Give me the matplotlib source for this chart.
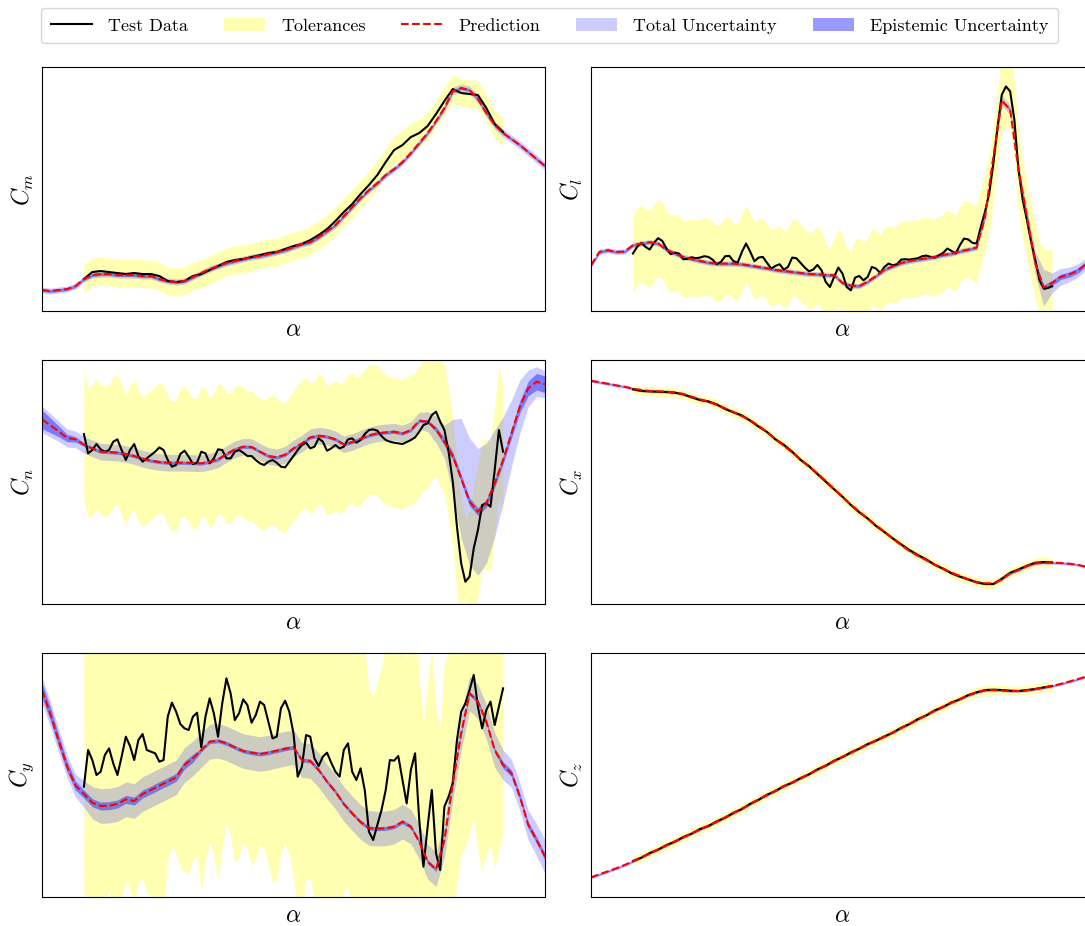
import numpy as np
import matplotlib
matplotlib.use('agg')
import matplotlib.pyplot as plt
from matplotlib.lines import Line2D
from matplotlib.patches import Patch

plt.rcParams['font.family'] = 'serif'
plt.rcParams['font.serif'] = ['cmr10']
plt.rcParams['mathtext.fontset'] = 'cm'
plt.rcParams['axes.formatter.use_mathtext'] = True

# angle of attack grids: model sweep, and the two test sampling rates
alpha_pred = np.arange(-10, 50.5, 1.0)
alpha_fine = np.arange(-5, 45.25, 0.5)
alpha_coarse = np.arange(-5, 45.5, 1.0)

# ---------------- C_m ----------------
cm_pred = [0.021, 0.020, 0.021, 0.022, 0.025, 0.032, 0.036, 0.037, 0.037, 0.036,
           0.036, 0.036, 0.035, 0.035, 0.032, 0.030, 0.029, 0.030, 0.034, 0.038,
           0.042, 0.045, 0.048, 0.050, 0.052, 0.054, 0.055, 0.057, 0.059, 0.061,
           0.064, 0.067, 0.069, 0.074, 0.080, 0.086, 0.095, 0.104, 0.113, 0.121,
           0.128, 0.136, 0.142, 0.149, 0.158, 0.168, 0.178, 0.190, 0.203, 0.220,
           0.223, 0.221, 0.212, 0.198, 0.186, 0.178, 0.172, 0.166, 0.159, 0.152,
           0.145]
cm_total = [0.003, 0.003, 0.003, 0.003, 0.003, 0.003, 0.003, 0.003, 0.003, 0.003,
            0.003, 0.003, 0.003, 0.003, 0.003, 0.003, 0.003, 0.003, 0.003, 0.003,
            0.003, 0.003, 0.003, 0.003, 0.003, 0.003, 0.003, 0.003, 0.003, 0.003,
            0.003, 0.003, 0.003, 0.003, 0.003, 0.003, 0.003, 0.003, 0.003, 0.003,
            0.003, 0.003, 0.003, 0.003, 0.003, 0.003, 0.003, 0.003, 0.004, 0.004,
            0.004, 0.004, 0.004, 0.004, 0.004, 0.004, 0.004, 0.004, 0.004, 0.004,
            0.004]
cm_epi = [0.0015] * 61
cm_test = [0.032, 0.039, 0.040, 0.039, 0.038,
           0.037, 0.038, 0.037, 0.037, 0.035, 0.030, 0.029, 0.030, 0.035, 0.037,
           0.041, 0.045, 0.049, 0.051, 0.052, 0.054, 0.056, 0.058, 0.059, 0.062,
           0.065, 0.067, 0.071, 0.076, 0.082, 0.090, 0.099, 0.107, 0.117, 0.126,
           0.136, 0.149, 0.161, 0.166, 0.174, 0.178, 0.185, 0.197, 0.210, 0.222,
           0.218, 0.217, 0.216, 0.203, 0.187, 0.179]
cm_tol = 0.014

# ---------------- C_l ----------------
cl_pred = [0.137, 0.177, 0.182, 0.177, 0.178, 0.197, 0.202, 0.206, 0.202, 0.184,
           0.172, 0.162, 0.156, 0.150, 0.145, 0.142, 0.142, 0.142, 0.140, 0.136,
           0.132, 0.128, 0.123, 0.120, 0.117, 0.114, 0.111, 0.110, 0.108, 0.107,
           0.084, 0.076, 0.075, 0.088, 0.105, 0.124, 0.134, 0.144, 0.150, 0.154,
           0.158, 0.162, 0.168, 0.172, 0.179, 0.184, 0.190, 0.282, 0.462, 0.630,
           0.602, 0.422, 0.282, 0.142, 0.070, 0.084, 0.102, 0.109, 0.120, 0.140,
           0.152]
cl_total = [0.008, 0.008, 0.008, 0.008, 0.008, 0.008, 0.008, 0.008, 0.008, 0.008,
            0.008, 0.008, 0.008, 0.008, 0.008, 0.008, 0.008, 0.008, 0.008, 0.008,
            0.008, 0.008, 0.008, 0.008, 0.008, 0.008, 0.008, 0.008, 0.008, 0.008,
            0.008, 0.008, 0.008, 0.008, 0.008, 0.008, 0.008, 0.008, 0.008, 0.008,
            0.008, 0.008, 0.008, 0.008, 0.008, 0.008, 0.008, 0.012, 0.015, 0.015,
            0.015, 0.018, 0.025, 0.035, 0.055, 0.030, 0.025, 0.022, 0.020, 0.018,
            0.018]
cl_epi = [0.004, 0.004, 0.004, 0.004, 0.004, 0.004, 0.004, 0.004, 0.004, 0.004,
          0.004, 0.004, 0.004, 0.004, 0.004, 0.004, 0.004, 0.004, 0.004, 0.004,
          0.004, 0.004, 0.004, 0.004, 0.004, 0.004, 0.004, 0.004, 0.004, 0.004,
          0.004, 0.004, 0.004, 0.004, 0.004, 0.004, 0.004, 0.004, 0.004, 0.004,
          0.004, 0.004, 0.004, 0.004, 0.004, 0.004, 0.004, 0.004, 0.004, 0.004,
          0.004, 0.004, 0.004, 0.008, 0.008, 0.008, 0.008, 0.008, 0.008, 0.008,
          0.008]
cl_test = [0.172, 0.192, 0.204, 0.192, 0.184, 0.204, 0.218, 0.210, 0.187, 0.170,
           0.175, 0.172, 0.155, 0.156, 0.161, 0.158, 0.160, 0.164, 0.162, 0.154,
           0.140, 0.147, 0.164, 0.165, 0.149, 0.145, 0.177, 0.202, 0.177, 0.149,
           0.160, 0.162, 0.144, 0.127, 0.135, 0.140, 0.124, 0.132, 0.160, 0.158,
           0.144, 0.130, 0.119, 0.124, 0.138, 0.122, 0.087, 0.072, 0.102, 0.130,
           0.112, 0.072, 0.062, 0.100, 0.105, 0.092, 0.102, 0.132, 0.127, 0.114,
           0.132, 0.142, 0.137, 0.140, 0.154, 0.155, 0.154, 0.156, 0.158, 0.164,
           0.166, 0.162, 0.160, 0.167, 0.174, 0.187, 0.180, 0.172, 0.197, 0.217,
           0.214, 0.204, 0.202, 0.252, 0.297, 0.352, 0.442, 0.552, 0.647, 0.672,
           0.657, 0.572, 0.422, 0.332, 0.272, 0.207, 0.152, 0.092, 0.067, 0.069,
           0.074]
cl_tol = 0.115

# ---------------- C_n ----------------
cn_pred = [0.554, 0.536, 0.518, 0.498, 0.494, 0.478, 0.467, 0.457, 0.456, 0.454,
           0.450, 0.444, 0.436, 0.430, 0.426, 0.424, 0.424, 0.424, 0.423, 0.422,
           0.427, 0.434, 0.450, 0.464, 0.472, 0.471, 0.457, 0.444, 0.440, 0.448,
           0.467, 0.482, 0.500, 0.505, 0.502, 0.494, 0.479, 0.486, 0.496, 0.506,
           0.512, 0.515, 0.517, 0.512, 0.522, 0.550, 0.547, 0.524, 0.487, 0.444,
           0.377, 0.307, 0.277, 0.302, 0.362, 0.432, 0.512, 0.592, 0.647, 0.667,
           0.659]
cn_total = [0.040, 0.035, 0.030, 0.027, 0.025, 0.025, 0.025, 0.025, 0.025, 0.025,
            0.025, 0.025, 0.025, 0.025, 0.025, 0.025, 0.025, 0.025, 0.025, 0.025,
            0.025, 0.025, 0.025, 0.025, 0.025, 0.025, 0.025, 0.025, 0.025, 0.025,
            0.025, 0.025, 0.025, 0.025, 0.025, 0.025, 0.025, 0.025, 0.025, 0.025,
            0.025, 0.025, 0.025, 0.025, 0.025, 0.025, 0.030, 0.040, 0.050, 0.110,
            0.180, 0.190, 0.190, 0.180, 0.160, 0.130, 0.100, 0.080, 0.055, 0.045,
            0.040]
cn_epi = [0.028, 0.022, 0.016, 0.011, 0.008, 0.005, 0.005, 0.005, 0.005, 0.005,
          0.005, 0.005, 0.005, 0.005, 0.005, 0.005, 0.005, 0.005, 0.005, 0.005,
          0.005, 0.005, 0.005, 0.005, 0.005, 0.005, 0.005, 0.005, 0.005, 0.005,
          0.005, 0.005, 0.005, 0.005, 0.005, 0.005, 0.005, 0.005, 0.005, 0.005,
          0.005, 0.005, 0.005, 0.005, 0.005, 0.005, 0.005, 0.008, 0.012, 0.012,
          0.012, 0.012, 0.012, 0.012, 0.012, 0.012, 0.015, 0.018, 0.022, 0.025,
          0.025]
cn_test = [0.510, 0.452, 0.462, 0.480, 0.464, 0.457, 0.462, 0.487, 0.494, 0.462,
           0.432, 0.462, 0.480, 0.444, 0.427, 0.437, 0.447, 0.457, 0.470, 0.462,
           0.432, 0.412, 0.417, 0.450, 0.460, 0.442, 0.420, 0.424, 0.457, 0.452,
           0.422, 0.437, 0.464, 0.462, 0.437, 0.437, 0.457, 0.462, 0.454, 0.444,
           0.444, 0.432, 0.422, 0.417, 0.427, 0.432, 0.424, 0.412, 0.410, 0.427,
           0.444, 0.462, 0.477, 0.484, 0.467, 0.472, 0.497, 0.487, 0.460, 0.467,
           0.477, 0.467, 0.472, 0.494, 0.497, 0.484, 0.492, 0.510, 0.522, 0.524,
           0.520, 0.504, 0.492, 0.487, 0.484, 0.482, 0.480, 0.486, 0.492, 0.500,
           0.517, 0.537, 0.542, 0.567, 0.577, 0.547, 0.522, 0.457, 0.367, 0.232,
           0.122, 0.067, 0.082, 0.167, 0.222, 0.297, 0.302, 0.292, 0.402, 0.522,
           0.457]
cn_tol = 0.195

# ---------------- C_x ----------------
cx_pred = [0.670, 0.665, 0.661, 0.656, 0.652, 0.646, 0.642, 0.639, 0.638, 0.637,
           0.635, 0.630, 0.622, 0.614, 0.607, 0.598, 0.587, 0.576, 0.564, 0.551,
           0.534, 0.516, 0.495, 0.475, 0.455, 0.434, 0.412, 0.392, 0.369, 0.345,
           0.321, 0.298, 0.277, 0.256, 0.236, 0.217, 0.196, 0.177, 0.159, 0.145,
           0.132, 0.118, 0.106, 0.094, 0.084, 0.074, 0.066, 0.062, 0.062, 0.074,
           0.092, 0.102, 0.114, 0.122, 0.124, 0.124, 0.123, 0.121, 0.118, 0.112,
           0.108]
cx_total = [0.005] * 61
cx_epi = [0.002] * 61
cx_test = [0.644, 0.639, 0.638, 0.637, 0.636,
           0.634, 0.629, 0.620, 0.612, 0.608, 0.599, 0.585, 0.575, 0.566, 0.550,
           0.532, 0.516, 0.494, 0.478, 0.457, 0.432, 0.414, 0.390, 0.367, 0.344,
           0.322, 0.297, 0.275, 0.257, 0.234, 0.216, 0.197, 0.179, 0.162, 0.147,
           0.134, 0.118, 0.106, 0.092, 0.082, 0.074, 0.065, 0.060, 0.060, 0.076,
           0.094, 0.104, 0.115, 0.124, 0.126, 0.125]
cx_tol = 0.014

# ---------------- C_y ----------------
cy_pred = [0.621, 0.549, 0.468, 0.391, 0.334, 0.309, 0.283, 0.273, 0.274, 0.279,
           0.293, 0.288, 0.309, 0.321, 0.334, 0.346, 0.359, 0.396, 0.416, 0.441,
           0.466, 0.469, 0.461, 0.449, 0.438, 0.433, 0.429, 0.433, 0.439, 0.445,
           0.449, 0.411, 0.408, 0.381, 0.346, 0.316, 0.279, 0.251, 0.225, 0.207,
           0.205, 0.206, 0.211, 0.226, 0.211, 0.166, 0.106, 0.083, 0.171, 0.341,
           0.491, 0.611, 0.586, 0.526, 0.441, 0.396, 0.371, 0.301, 0.216, 0.171,
           0.121]
cy_total = [0.038, 0.038, 0.036, 0.034, 0.034, 0.040, 0.048, 0.052, 0.052, 0.052,
            0.052, 0.052, 0.052, 0.052, 0.052, 0.052, 0.052, 0.052, 0.052, 0.052,
            0.052, 0.052, 0.052, 0.052, 0.052, 0.052, 0.052, 0.052, 0.052, 0.052,
            0.052, 0.052, 0.052, 0.052, 0.052, 0.052, 0.052, 0.052, 0.052, 0.052,
            0.052, 0.052, 0.052, 0.052, 0.052, 0.052, 0.052, 0.052, 0.052, 0.052,
            0.052, 0.052, 0.052, 0.052, 0.052, 0.045, 0.042, 0.042, 0.045, 0.048,
            0.050]
cy_epi = [0.022, 0.020, 0.018, 0.016, 0.014, 0.012, 0.012, 0.012, 0.012, 0.012,
          0.012, 0.012, 0.012, 0.012, 0.012, 0.012, 0.012, 0.012, 0.012, 0.006,
          0.006, 0.006, 0.006, 0.006, 0.006, 0.006, 0.006, 0.006, 0.006, 0.006,
          0.006, 0.006, 0.006, 0.006, 0.006, 0.006, 0.006, 0.006, 0.006, 0.006,
          0.006, 0.006, 0.006, 0.006, 0.006, 0.006, 0.006, 0.006, 0.006, 0.006,
          0.006, 0.006, 0.006, 0.006, 0.006, 0.010, 0.010, 0.010, 0.010, 0.010,
          0.010]
cy_test = [0.331, 0.441, 0.411, 0.366, 0.376, 0.426, 0.446, 0.401, 0.366, 0.421,
           0.481, 0.453, 0.411, 0.471, 0.489, 0.441, 0.436, 0.431, 0.406, 0.411,
           0.541, 0.583, 0.556, 0.519, 0.506, 0.501, 0.541, 0.553, 0.449, 0.541,
           0.596, 0.551, 0.481, 0.581, 0.656, 0.611, 0.531, 0.551, 0.593, 0.576,
           0.523, 0.546, 0.586, 0.576, 0.526, 0.476, 0.481, 0.566, 0.589, 0.556,
           0.491, 0.361, 0.391, 0.486, 0.481, 0.416, 0.393, 0.421, 0.433, 0.403,
           0.376, 0.361, 0.441, 0.461, 0.376, 0.351, 0.386, 0.321, 0.196, 0.171,
           0.216, 0.261, 0.321, 0.411, 0.409, 0.423, 0.351, 0.281, 0.381, 0.431,
           0.231, 0.091, 0.211, 0.321, 0.131, 0.081, 0.271, 0.301, 0.341, 0.471,
           0.556, 0.581, 0.621, 0.666, 0.571, 0.506, 0.561, 0.586, 0.516, 0.571,
           0.626]
cy_tol = 0.43

# ---------------- C_z ----------------
cz_pred = [0.059, 0.068, 0.077, 0.086, 0.096, 0.107, 0.119, 0.131, 0.143, 0.155,
           0.167, 0.179, 0.191, 0.203, 0.214, 0.226, 0.239, 0.252, 0.265, 0.279,
           0.293, 0.306, 0.319, 0.332, 0.344, 0.356, 0.369, 0.382, 0.395, 0.408,
           0.421, 0.433, 0.446, 0.458, 0.470, 0.481, 0.494, 0.507, 0.520, 0.533,
           0.546, 0.559, 0.571, 0.583, 0.594, 0.605, 0.614, 0.620, 0.621, 0.620,
           0.618, 0.618, 0.620, 0.624, 0.628, 0.633, 0.639, 0.646, 0.653, 0.661,
           0.668]
cz_total = [0.005] * 61
cz_epi = [0.002] * 61
cz_test = [0.108, 0.118, 0.132, 0.142, 0.156,
           0.166, 0.180, 0.190, 0.204, 0.213, 0.227, 0.238, 0.253, 0.264, 0.280,
           0.292, 0.307, 0.318, 0.333, 0.343, 0.357, 0.368, 0.383, 0.394, 0.409,
           0.420, 0.434, 0.445, 0.459, 0.469, 0.482, 0.493, 0.508, 0.519, 0.534,
           0.545, 0.560, 0.570, 0.584, 0.593, 0.606, 0.614, 0.621, 0.622, 0.621,
           0.619, 0.618, 0.621, 0.624, 0.629, 0.633]
cz_tol = 0.014

panels = [
    # label, test alpha, test, tolerance, prediction, total, epistemic, ylim, rect
    (r'$C_m$', alpha_coarse, cm_test, cm_tol, cm_pred, cm_total, cm_epi, (0, 0.244),
     [0.0387, 0.6641, 0.4636, 0.2635]),
    (r'$C_l$', alpha_fine, cl_test, cl_tol, cl_pred, cl_total, cl_epi, (0, 0.730),
     [0.5447, 0.6641, 0.4636, 0.2635]),
    (r'$C_n$', alpha_fine, cn_test, cn_tol, cn_pred, cn_total, cn_epi, (0, 0.732),
     [0.0387, 0.3477, 0.4636, 0.2635]),
    (r'$C_x$', alpha_coarse, cx_test, cx_tol, cx_pred, cx_total, cx_epi, (0, 0.732),
     [0.5447, 0.3477, 0.4636, 0.2635]),
    (r'$C_y$', alpha_fine, cy_test, cy_tol, cy_pred, cy_total, cy_epi, (0, 0.732),
     [0.0387, 0.0313, 0.4636, 0.2635]),
    (r'$C_z$', alpha_coarse, cz_test, cz_tol, cz_pred, cz_total, cz_epi, (0, 0.732),
     [0.5447, 0.0313, 0.4636, 0.2635]),
]

fig = plt.figure(figsize=(10.85, 9.26), dpi=100)

for label, a_test, test, tol, pred, total, epi, ylim, rect in panels:
    ax = fig.add_axes(rect)
    test = np.array(test)
    pred = np.array(pred)
    total = np.array(total)
    epi = np.array(epi)

    ax.fill_between(a_test, test - tol, test + tol, color='yellow', alpha=0.3, lw=0)
    ax.fill_between(alpha_pred, pred - total, pred + total, color='blue', alpha=0.2, lw=0)
    ax.fill_between(alpha_pred, pred - epi, pred + epi, color='blue', alpha=0.4, lw=0)
    ax.plot(a_test, test, color='black', lw=1.5)
    ax.plot(alpha_pred, pred, color='red', ls='--', lw=1.5)

    ax.set_xlim(-10, 50)
    ax.set_ylim(*ylim)
    ax.set_xticks([])
    ax.set_yticks([])
    ax.set_xlabel(r'$\alpha$', fontsize=17, labelpad=6)
    ax.set_ylabel(label, fontsize=17, labelpad=4.5)

handles = [
    Line2D([], [], color='black', lw=1.5),
    Patch(facecolor='yellow', alpha=0.3, edgecolor='none'),
    Line2D([], [], color='red', ls='--', lw=1.5),
    Patch(facecolor='blue', alpha=0.2, edgecolor='none'),
    Patch(facecolor='blue', alpha=0.4, edgecolor='none'),
]
labels = ['Test Data', 'Tolerances', 'Prediction', 'Total Uncertainty',
          'Epistemic Uncertainty']
fig.legend(handles, labels, loc='upper center', bbox_to_anchor=(0.5065, 0.9914),
           borderaxespad=0, borderpad=0.55, ncol=5, fontsize=13,
           handlelength=2.27, handletextpad=0.9, columnspacing=1.98)

fig.savefig('out.png', dpi=100)
